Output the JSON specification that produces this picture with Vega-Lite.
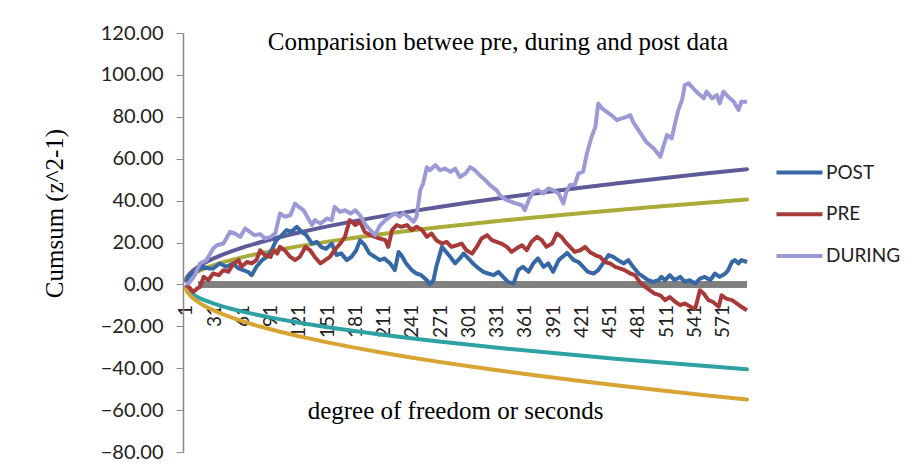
{
  "$schema": "https://vega.github.io/schema/vega-lite/v6.json",
  "width": 564,
  "height": 419,
  "autosize": {"type": "none"},
  "padding": {"left": 183, "top": 33, "right": 170, "bottom": 20},
  "background": "white",
  "config": {"view": {"stroke": null}, "font": "Lato"},
  "title": {
    "text": "Comparision betwee pre, during and post data",
    "font": "Liberation Serif", "fontSize": 25, "fontWeight": "normal", "color": "#000000",
    "anchor": "middle", "frame": "group", "baseline": "alphabetic", "offset": 0, "dx": 33, "dy": 52
  },
  "datasets": {
    "zero": [{"t": 14, "v": 0}, {"t": 597, "v": 0}],
    "curves": [
      {"s":"U2","t":1,"v":2.25},{"s":"U2","t":3,"v":3.9},{"s":"U2","t":6,"v":5.51},{"s":"U2","t":10,"v":7.11},{"s":"U2","t":15,"v":8.71},{"s":"U2","t":20,"v":10.06},{"s":"U2","t":30,"v":12.32},{"s":"U2","t":40,"v":14.23},{"s":"U2","t":50,"v":15.91},{"s":"U2","t":65,"v":18.14},{"s":"U2","t":80,"v":20.12},{"s":"U2","t":100,"v":22.5},{"s":"U2","t":120,"v":24.65},{"s":"U2","t":150,"v":27.56},{"s":"U2","t":180,"v":30.19},{"s":"U2","t":210,"v":32.6},{"s":"U2","t":240,"v":34.86},{"s":"U2","t":270,"v":36.97},{"s":"U2","t":300,"v":38.97},{"s":"U2","t":340,"v":41.49},{"s":"U2","t":380,"v":43.86},{"s":"U2","t":420,"v":46.11},{"s":"U2","t":460,"v":48.26},{"s":"U2","t":500,"v":50.31},{"s":"U2","t":550,"v":52.77},{"s":"U2","t":597,"v":54.98},
      {"s":"U1","t":1,"v":1.66},{"s":"U1","t":3,"v":2.87},{"s":"U1","t":6,"v":4.06},{"s":"U1","t":10,"v":5.24},{"s":"U1","t":15,"v":6.42},{"s":"U1","t":20,"v":7.41},{"s":"U1","t":30,"v":9.08},{"s":"U1","t":40,"v":10.49},{"s":"U1","t":50,"v":11.72},{"s":"U1","t":65,"v":13.37},{"s":"U1","t":80,"v":14.83},{"s":"U1","t":100,"v":16.58},{"s":"U1","t":120,"v":18.16},{"s":"U1","t":150,"v":20.31},{"s":"U1","t":180,"v":22.24},{"s":"U1","t":210,"v":24.03},{"s":"U1","t":240,"v":25.69},{"s":"U1","t":270,"v":27.24},{"s":"U1","t":300,"v":28.72},{"s":"U1","t":340,"v":30.57},{"s":"U1","t":380,"v":32.32},{"s":"U1","t":420,"v":33.98},{"s":"U1","t":460,"v":35.56},{"s":"U1","t":500,"v":37.07},{"s":"U1","t":550,"v":38.88},{"s":"U1","t":597,"v":40.51},
      {"s":"L1","t":1,"v":-1.66},{"s":"L1","t":3,"v":-2.87},{"s":"L1","t":6,"v":-4.06},{"s":"L1","t":10,"v":-5.24},{"s":"L1","t":15,"v":-6.42},{"s":"L1","t":20,"v":-7.41},{"s":"L1","t":30,"v":-9.08},{"s":"L1","t":40,"v":-10.49},{"s":"L1","t":50,"v":-11.72},{"s":"L1","t":65,"v":-13.37},{"s":"L1","t":80,"v":-14.83},{"s":"L1","t":100,"v":-16.58},{"s":"L1","t":120,"v":-18.16},{"s":"L1","t":150,"v":-20.31},{"s":"L1","t":180,"v":-22.24},{"s":"L1","t":210,"v":-24.03},{"s":"L1","t":240,"v":-25.69},{"s":"L1","t":270,"v":-27.24},{"s":"L1","t":300,"v":-28.72},{"s":"L1","t":340,"v":-30.57},{"s":"L1","t":380,"v":-32.32},{"s":"L1","t":420,"v":-33.98},{"s":"L1","t":460,"v":-35.56},{"s":"L1","t":500,"v":-37.07},{"s":"L1","t":550,"v":-38.88},{"s":"L1","t":597,"v":-40.51},
      {"s":"L2","t":1,"v":-2.25},{"s":"L2","t":3,"v":-3.9},{"s":"L2","t":6,"v":-5.51},{"s":"L2","t":10,"v":-7.11},{"s":"L2","t":15,"v":-8.71},{"s":"L2","t":20,"v":-10.06},{"s":"L2","t":30,"v":-12.32},{"s":"L2","t":40,"v":-14.23},{"s":"L2","t":50,"v":-15.91},{"s":"L2","t":65,"v":-18.14},{"s":"L2","t":80,"v":-20.12},{"s":"L2","t":100,"v":-22.5},{"s":"L2","t":120,"v":-24.65},{"s":"L2","t":150,"v":-27.56},{"s":"L2","t":180,"v":-30.19},{"s":"L2","t":210,"v":-32.6},{"s":"L2","t":240,"v":-34.86},{"s":"L2","t":270,"v":-36.97},{"s":"L2","t":300,"v":-38.97},{"s":"L2","t":340,"v":-41.49},{"s":"L2","t":380,"v":-43.86},{"s":"L2","t":420,"v":-46.11},{"s":"L2","t":460,"v":-48.26},{"s":"L2","t":500,"v":-50.31},{"s":"L2","t":550,"v":-52.77},{"s":"L2","t":597,"v":-54.98}
    ],
    "main": [
      {"s":"POST","t":1,"v":1},{"s":"POST","t":4,"v":3.6},{"s":"POST","t":9,"v":5.2},{"s":"POST","t":14,"v":6.8},{"s":"POST","t":20,"v":8.4},{"s":"POST","t":25,"v":7.6},{"s":"POST","t":30,"v":7.6},{"s":"POST","t":37,"v":10},{"s":"POST","t":44,"v":8.4},{"s":"POST","t":51,"v":10},{"s":"POST","t":57,"v":7.6},{"s":"POST","t":62,"v":6.8},{"s":"POST","t":67,"v":6},{"s":"POST","t":71,"v":4.4},{"s":"POST","t":76,"v":8.4},{"s":"POST","t":82,"v":11.6},{"s":"POST","t":87,"v":13.2},{"s":"POST","t":92,"v":16.3},{"s":"POST","t":97,"v":21},{"s":"POST","t":103,"v":23.5},{"s":"POST","t":108,"v":25.9},{"s":"POST","t":113,"v":25.1},{"s":"POST","t":119,"v":27.5},{"s":"POST","t":124,"v":25.1},{"s":"POST","t":129,"v":23.5},{"s":"POST","t":135,"v":19.5},{"s":"POST","t":140,"v":20.3},{"s":"POST","t":145,"v":17.8},{"s":"POST","t":150,"v":17},{"s":"POST","t":156,"v":19.5},{"s":"POST","t":161,"v":14},{"s":"POST","t":166,"v":14.8},{"s":"POST","t":172,"v":11.6},{"s":"POST","t":177,"v":13.2},{"s":"POST","t":182,"v":16.3},{"s":"POST","t":186,"v":21},{"s":"POST","t":191,"v":18.7},{"s":"POST","t":196,"v":14.8},{"s":"POST","t":202,"v":13.1},{"s":"POST","t":207,"v":11.6},{"s":"POST","t":212,"v":12.4},{"s":"POST","t":218,"v":10},{"s":"POST","t":223,"v":6.8},{"s":"POST","t":227,"v":15.5},{"s":"POST","t":230,"v":13.9},{"s":"POST","t":235,"v":10},{"s":"POST","t":241,"v":6.8},{"s":"POST","t":246,"v":5.2},{"s":"POST","t":251,"v":4.4},{"s":"POST","t":257,"v":2},{"s":"POST","t":260,"v":0},{"s":"POST","t":264,"v":2},{"s":"POST","t":267,"v":8.4},{"s":"POST","t":273,"v":17.9},{"s":"POST","t":276,"v":16.3},{"s":"POST","t":282,"v":13.1},{"s":"POST","t":287,"v":10},{"s":"POST","t":292,"v":12.4},{"s":"POST","t":296,"v":14.7},{"s":"POST","t":301,"v":12.4},{"s":"POST","t":306,"v":10},{"s":"POST","t":312,"v":7.6},{"s":"POST","t":317,"v":6},{"s":"POST","t":322,"v":5.2},{"s":"POST","t":328,"v":4.4},{"s":"POST","t":333,"v":6},{"s":"POST","t":338,"v":3.6},{"s":"POST","t":343,"v":1.2},{"s":"POST","t":349,"v":0.4},{"s":"POST","t":354,"v":6.8},{"s":"POST","t":359,"v":8.4},{"s":"POST","t":365,"v":6},{"s":"POST","t":370,"v":10},{"s":"POST","t":375,"v":12.4},{"s":"POST","t":381,"v":8.4},{"s":"POST","t":386,"v":10},{"s":"POST","t":391,"v":6},{"s":"POST","t":397,"v":11.6},{"s":"POST","t":402,"v":13.5},{"s":"POST","t":406,"v":15},{"s":"POST","t":413,"v":11.6},{"s":"POST","t":418,"v":10.7},{"s":"POST","t":423,"v":8.4},{"s":"POST","t":428,"v":6},{"s":"POST","t":434,"v":5.2},{"s":"POST","t":439,"v":6.8},{"s":"POST","t":444,"v":10},{"s":"POST","t":450,"v":14},{"s":"POST","t":455,"v":13.1},{"s":"POST","t":460,"v":11.6},{"s":"POST","t":466,"v":10},{"s":"POST","t":471,"v":11.6},{"s":"POST","t":476,"v":8.4},{"s":"POST","t":482,"v":5.2},{"s":"POST","t":487,"v":3.6},{"s":"POST","t":492,"v":2},{"s":"POST","t":497,"v":1.2},{"s":"POST","t":503,"v":2},{"s":"POST","t":506,"v":3.6},{"s":"POST","t":510,"v":2},{"s":"POST","t":515,"v":4.4},{"s":"POST","t":520,"v":2},{"s":"POST","t":526,"v":3.6},{"s":"POST","t":531,"v":1.2},{"s":"POST","t":536,"v":2},{"s":"POST","t":542,"v":0.4},{"s":"POST","t":547,"v":2.8},{"s":"POST","t":552,"v":3.6},{"s":"POST","t":558,"v":2},{"s":"POST","t":563,"v":5.2},{"s":"POST","t":568,"v":3.6},{"s":"POST","t":574,"v":5.2},{"s":"POST","t":577,"v":6.8},{"s":"POST","t":581,"v":10.7},{"s":"POST","t":584,"v":11.6},{"s":"POST","t":588,"v":10},{"s":"POST","t":591,"v":11.6},{"s":"POST","t":597,"v":10.7},
      {"s":"PRE","t":1,"v":0},{"s":"PRE","t":4,"v":-1.2},{"s":"PRE","t":9,"v":-3.6},{"s":"PRE","t":13,"v":-2},{"s":"PRE","t":16,"v":-1.2},{"s":"PRE","t":20,"v":3.6},{"s":"PRE","t":25,"v":2},{"s":"PRE","t":30,"v":5.2},{"s":"PRE","t":36,"v":4.4},{"s":"PRE","t":41,"v":6.8},{"s":"PRE","t":46,"v":6},{"s":"PRE","t":52,"v":10},{"s":"PRE","t":57,"v":11.6},{"s":"PRE","t":60,"v":8.4},{"s":"PRE","t":66,"v":10.7},{"s":"PRE","t":71,"v":10},{"s":"PRE","t":76,"v":11.6},{"s":"PRE","t":80,"v":16.3},{"s":"PRE","t":85,"v":13.9},{"s":"PRE","t":91,"v":13.1},{"s":"PRE","t":94,"v":16.3},{"s":"PRE","t":98,"v":14.7},{"s":"PRE","t":101,"v":17.9},{"s":"PRE","t":106,"v":16.3},{"s":"PRE","t":112,"v":13.1},{"s":"PRE","t":117,"v":11.6},{"s":"PRE","t":122,"v":13.1},{"s":"PRE","t":128,"v":17.9},{"s":"PRE","t":133,"v":16.3},{"s":"PRE","t":138,"v":13.1},{"s":"PRE","t":144,"v":10},{"s":"PRE","t":149,"v":11.6},{"s":"PRE","t":154,"v":13.1},{"s":"PRE","t":159,"v":16.3},{"s":"PRE","t":165,"v":19.5},{"s":"PRE","t":170,"v":22.7},{"s":"PRE","t":175,"v":30.7},{"s":"PRE","t":181,"v":28.3},{"s":"PRE","t":186,"v":29.9},{"s":"PRE","t":191,"v":25},{"s":"PRE","t":197,"v":23.5},{"s":"PRE","t":202,"v":22.7},{"s":"PRE","t":207,"v":21.9},{"s":"PRE","t":213,"v":21.1},{"s":"PRE","t":216,"v":17.9},{"s":"PRE","t":220,"v":25.9},{"s":"PRE","t":225,"v":28.3},{"s":"PRE","t":230,"v":27.5},{"s":"PRE","t":236,"v":28.3},{"s":"PRE","t":241,"v":25.9},{"s":"PRE","t":246,"v":27.5},{"s":"PRE","t":252,"v":25.9},{"s":"PRE","t":257,"v":22.7},{"s":"PRE","t":262,"v":24.3},{"s":"PRE","t":267,"v":21.1},{"s":"PRE","t":273,"v":19.5},{"s":"PRE","t":278,"v":20.3},{"s":"PRE","t":283,"v":17.9},{"s":"PRE","t":289,"v":18.7},{"s":"PRE","t":294,"v":19.5},{"s":"PRE","t":299,"v":16.3},{"s":"PRE","t":305,"v":14.7},{"s":"PRE","t":310,"v":17.9},{"s":"PRE","t":315,"v":21.9},{"s":"PRE","t":321,"v":23.5},{"s":"PRE","t":326,"v":21.1},{"s":"PRE","t":331,"v":20.3},{"s":"PRE","t":336,"v":19.5},{"s":"PRE","t":342,"v":17.9},{"s":"PRE","t":347,"v":15.5},{"s":"PRE","t":352,"v":17.1},{"s":"PRE","t":358,"v":18.7},{"s":"PRE","t":363,"v":16.3},{"s":"PRE","t":368,"v":20.3},{"s":"PRE","t":374,"v":22.7},{"s":"PRE","t":379,"v":21.1},{"s":"PRE","t":384,"v":17.9},{"s":"PRE","t":390,"v":19.5},{"s":"PRE","t":395,"v":24.3},{"s":"PRE","t":400,"v":22.7},{"s":"PRE","t":404,"v":20.3},{"s":"PRE","t":409,"v":17.9},{"s":"PRE","t":414,"v":15.5},{"s":"PRE","t":420,"v":16.3},{"s":"PRE","t":425,"v":17.9},{"s":"PRE","t":430,"v":15.5},{"s":"PRE","t":436,"v":13.9},{"s":"PRE","t":441,"v":13.1},{"s":"PRE","t":446,"v":10.7},{"s":"PRE","t":452,"v":9.9},{"s":"PRE","t":457,"v":8.4},{"s":"PRE","t":462,"v":7.6},{"s":"PRE","t":467,"v":6.8},{"s":"PRE","t":473,"v":5.2},{"s":"PRE","t":478,"v":4.4},{"s":"PRE","t":483,"v":1.2},{"s":"PRE","t":489,"v":-1.2},{"s":"PRE","t":494,"v":-2.8},{"s":"PRE","t":499,"v":-4.4},{"s":"PRE","t":505,"v":-5.2},{"s":"PRE","t":510,"v":-7.5},{"s":"PRE","t":515,"v":-6},{"s":"PRE","t":521,"v":-8.4},{"s":"PRE","t":526,"v":-9.9},{"s":"PRE","t":531,"v":-9.1},{"s":"PRE","t":537,"v":-10.7},{"s":"PRE","t":542,"v":-11.6},{"s":"PRE","t":547,"v":-2.8},{"s":"PRE","t":551,"v":-4.4},{"s":"PRE","t":556,"v":-7.5},{"s":"PRE","t":561,"v":-8.4},{"s":"PRE","t":567,"v":-10.7},{"s":"PRE","t":570,"v":-5.2},{"s":"PRE","t":575,"v":-6.8},{"s":"PRE","t":581,"v":-7.5},{"s":"PRE","t":586,"v":-9.1},{"s":"PRE","t":591,"v":-10.7},{"s":"PRE","t":597,"v":-12.3},
      {"s":"DURING","t":1,"v":0},{"s":"DURING","t":5,"v":1},{"s":"DURING","t":10,"v":4},{"s":"DURING","t":16,"v":10},{"s":"DURING","t":23,"v":11.6},{"s":"DURING","t":30,"v":17.1},{"s":"DURING","t":34,"v":18.7},{"s":"DURING","t":41,"v":19.5},{"s":"DURING","t":48,"v":25.1},{"s":"DURING","t":53,"v":24.3},{"s":"DURING","t":59,"v":22.7},{"s":"DURING","t":64,"v":26.7},{"s":"DURING","t":69,"v":25.1},{"s":"DURING","t":74,"v":23.5},{"s":"DURING","t":80,"v":24},{"s":"DURING","t":85,"v":21.9},{"s":"DURING","t":91,"v":22.7},{"s":"DURING","t":96,"v":24.3},{"s":"DURING","t":101,"v":33.9},{"s":"DURING","t":106,"v":32.3},{"s":"DURING","t":112,"v":33},{"s":"DURING","t":117,"v":38.6},{"s":"DURING","t":121,"v":37},{"s":"DURING","t":126,"v":35.4},{"s":"DURING","t":131,"v":31.5},{"s":"DURING","t":135,"v":28.3},{"s":"DURING","t":138,"v":30.7},{"s":"DURING","t":144,"v":29},{"s":"DURING","t":151,"v":31.5},{"s":"DURING","t":156,"v":30.7},{"s":"DURING","t":159,"v":37},{"s":"DURING","t":165,"v":34.6},{"s":"DURING","t":170,"v":35.4},{"s":"DURING","t":176,"v":33.8},{"s":"DURING","t":181,"v":35.4},{"s":"DURING","t":186,"v":33},{"s":"DURING","t":192,"v":28.3},{"s":"DURING","t":197,"v":25.9},{"s":"DURING","t":202,"v":23.5},{"s":"DURING","t":207,"v":28},{"s":"DURING","t":213,"v":30.7},{"s":"DURING","t":218,"v":32.3},{"s":"DURING","t":223,"v":33.9},{"s":"DURING","t":228,"v":32.3},{"s":"DURING","t":232,"v":34},{"s":"DURING","t":237,"v":32.3},{"s":"DURING","t":243,"v":29.9},{"s":"DURING","t":246,"v":32.3},{"s":"DURING","t":250,"v":45},{"s":"DURING","t":253,"v":48.2},{"s":"DURING","t":257,"v":56},{"s":"DURING","t":260,"v":54.5},{"s":"DURING","t":266,"v":56.9},{"s":"DURING","t":271,"v":54.5},{"s":"DURING","t":276,"v":55.3},{"s":"DURING","t":282,"v":53.7},{"s":"DURING","t":287,"v":55.3},{"s":"DURING","t":292,"v":51.3},{"s":"DURING","t":298,"v":52.9},{"s":"DURING","t":303,"v":56},{"s":"DURING","t":308,"v":54.5},{"s":"DURING","t":313,"v":52.1},{"s":"DURING","t":319,"v":49.8},{"s":"DURING","t":324,"v":47.4},{"s":"DURING","t":331,"v":45},{"s":"DURING","t":336,"v":41.8},{"s":"DURING","t":342,"v":40.2},{"s":"DURING","t":347,"v":39.4},{"s":"DURING","t":352,"v":38.6},{"s":"DURING","t":358,"v":37.8},{"s":"DURING","t":361,"v":35.4},{"s":"DURING","t":365,"v":40.2},{"s":"DURING","t":370,"v":44.2},{"s":"DURING","t":375,"v":45},{"s":"DURING","t":381,"v":43.4},{"s":"DURING","t":386,"v":45.8},{"s":"DURING","t":391,"v":45},{"s":"DURING","t":397,"v":43.4},{"s":"DURING","t":402,"v":38.6},{"s":"DURING","t":405,"v":44},{"s":"DURING","t":409,"v":47.5},{"s":"DURING","t":414,"v":47.4},{"s":"DURING","t":418,"v":53},{"s":"DURING","t":423,"v":53.8},{"s":"DURING","t":427,"v":62.5},{"s":"DURING","t":432,"v":70.5},{"s":"DURING","t":436,"v":75.2},{"s":"DURING","t":439,"v":86.4},{"s":"DURING","t":443,"v":84},{"s":"DURING","t":448,"v":82.4},{"s":"DURING","t":453,"v":80.8},{"s":"DURING","t":459,"v":78.4},{"s":"DURING","t":464,"v":79.2},{"s":"DURING","t":469,"v":80},{"s":"DURING","t":473,"v":80.8},{"s":"DURING","t":476,"v":77.6},{"s":"DURING","t":483,"v":72.8},{"s":"DURING","t":490,"v":68},{"s":"DURING","t":498,"v":64.9},{"s":"DURING","t":505,"v":60.9},{"s":"DURING","t":508,"v":65.7},{"s":"DURING","t":512,"v":71.3},{"s":"DURING","t":517,"v":69.7},{"s":"DURING","t":521,"v":77.6},{"s":"DURING","t":524,"v":83.2},{"s":"DURING","t":528,"v":88},{"s":"DURING","t":531,"v":95.2},{"s":"DURING","t":535,"v":96},{"s":"DURING","t":540,"v":93.6},{"s":"DURING","t":545,"v":91.2},{"s":"DURING","t":551,"v":88.8},{"s":"DURING","t":554,"v":92},{"s":"DURING","t":560,"v":88.8},{"s":"DURING","t":565,"v":90.4},{"s":"DURING","t":568,"v":86.4},{"s":"DURING","t":572,"v":92},{"s":"DURING","t":577,"v":89.6},{"s":"DURING","t":583,"v":87.2},{"s":"DURING","t":588,"v":83.2},{"s":"DURING","t":591,"v":87.2},{"s":"DURING","t":597,"v":87.2}
    ]
  },
  "encoding": {
    "x": {
      "field": "t", "type": "quantitative",
      "scale": {"domain": [-2, 597], "nice": false, "zero": false},
      "axis": {
        "values": [1,31,61,91,121,151,181,211,241,271,301,331,361,391,421,451,481,511,541,571],
        "labelAngle": -90, "labelFont": "Lato", "labelFontSize": 19, "labelColor": "#222222",
        "labelPadding": 20, "labelOverlap": false, "labelFlush": false, "ticks": false, "domain": false, "grid": false,
        "offset": -167.6,
        "title": "degree of freedom or seconds",
        "titleFont": "Liberation Serif", "titleFontSize": 25, "titleFontWeight": "normal", "titleColor": "#000000",
        "titleX": 272, "titleY": 126, "titleBaseline": "middle", "titleAlign": "center"
      }
    },
    "y": {
      "field": "v", "type": "quantitative",
      "scale": {"domain": [-80, 120], "nice": false, "zero": false},
      "axis": {
        "values": [-80,-60,-40,-20,0,20,40,60,80,100,120],
        "format": ".2f", "labelFont": "Lato", "labelFontSize": 20, "labelColor": "#222222",
        "labelPadding": 13, "tickSize": 7, "tickColor": "#888888", "domainColor": "#888888", "domainWidth": 1.5,
        "grid": false,
        "title": "Cumsum (z^2-1)",
        "titleFont": "Liberation Serif", "titleFontSize": 25, "titleFontWeight": "normal", "titleColor": "#000000",
        "titleAngle": -90, "titleX": -129, "titleY": 180, "titleBaseline": "middle", "titleAlign": "center"
      }
    }
  },
  "layer": [
    {
      "data": {"name": "zero"},
      "mark": {"type": "line", "color": "#808080", "strokeWidth": 7}
    },
    {
      "data": {"name": "curves"},
      "mark": {"type": "line", "strokeWidth": 4, "strokeCap": "round"},
      "encoding": {
        "stroke": {
          "field": "s", "type": "nominal",
          "scale": {"domain": ["U2","U1","L1","L2"], "range": ["#5F5B99","#ABAB3A","#2EA2A3","#D8A535"]},
          "legend": null
        }
      }
    },
    {
      "data": {"name": "main"},
      "mark": {"type": "line", "strokeWidth": 4, "strokeJoin": "round"},
      "encoding": {
        "color": {
          "field": "s", "type": "nominal",
          "scale": {"domain": ["POST","PRE","DURING"], "range": ["#3568A4","#A93A3A","#9B9AD6"]},
          "legend": {
            "title": null, "orient": "none", "legendX": 603, "legendY": 126,
            "symbolType": "M-2,0H2", "symbolSize": 529, "symbolStrokeWidth": 4,
            "labelFont": "Lato", "labelFontSize": 19, "labelColor": "#222222",
            "labelOffset": 13, "rowPadding": 17.7
          }
        }
      }
    }
  ]
}
